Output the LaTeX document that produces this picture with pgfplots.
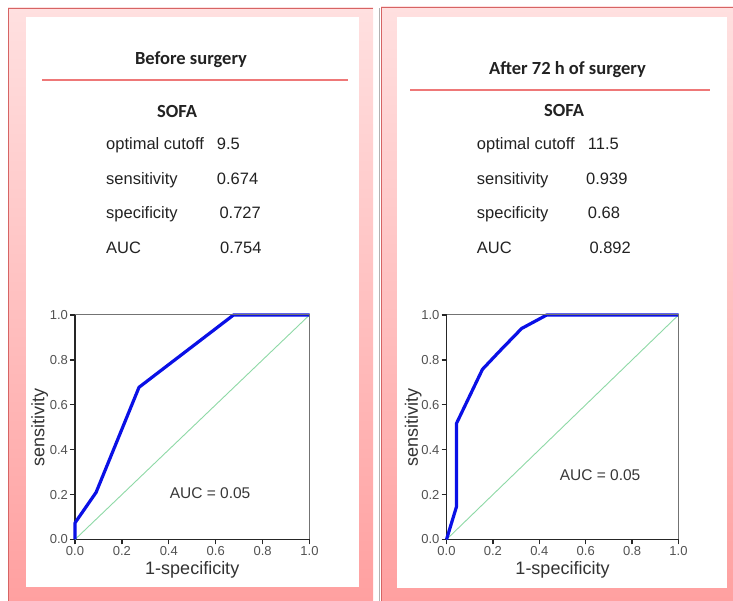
\documentclass[border=0pt]{standalone}
\usepackage{fontspec}
\setmainfont{Liberation Sans}
\newfontfamily\calibri{Carlito}
\usepackage{pgfplots}
\pgfplotsset{compat=1.18}
\definecolor{pinkA}{HTML}{FFE0E0}
\definecolor{pinkB}{HTML}{FFA0A0}
\definecolor{frameRed}{HTML}{D66464}
\definecolor{ruleRed}{HTML}{EE7878}
\definecolor{rocBlue}{HTML}{0A10E6}
\definecolor{diagGreen}{HTML}{8ED9A6}
\definecolor{txt}{HTML}{222222}

\pgfplotsset{rocaxis/.style={
  scale only axis, xmin=0, xmax=1, ymin=0, ymax=1,
  height=224.5pt,
  axis lines=left, axis line style={-, line width=1.6pt, black!85},
  xtick={0,0.2,0.4,0.6,0.8,1}, ytick={0,0.2,0.4,0.6,0.8,1},
  tick align=outside, major tick length=5pt,
  tick style={line width=1.3pt, black!85},
  ticklabel style={font=\fontsize{13}{14}\selectfont, text=black!68},
  xticklabel style={/pgf/number format/fixed, /pgf/number format/fixed zerofill, /pgf/number format/precision=1, yshift=1.5pt},
  yticklabel style={/pgf/number format/fixed, /pgf/number format/fixed zerofill, /pgf/number format/precision=1, xshift=1.5pt},
  /pgf/number format/assume math mode=true,
  label style={font=\fontsize{18}{19}\selectfont, text=black!80},
  xlabel={1-specificity}, ylabel={sensitivity},
  clip=false,
}}

\begin{document}
\begin{tikzpicture}[x=1pt,y=1pt]
\path[use as bounding box] (0,0) rectangle (733,601);
% left panel frame
\shade[top color=pinkA, bottom color=pinkB] (8,0) rectangle (373,593);
\draw[frameRed, line width=1.2pt] (8.5,0) -- (8.5,592.5) -- (373,592.5);
\fill[white] (26,14) rectangle (359,584);
% right panel frame
\shade[top color=pinkA, bottom color=pinkB] (381,0) rectangle (733,594);
\draw[black!30, line width=1pt] (379.2,0) -- (379.2,593);
\draw[frameRed, line width=1.4pt] (381.5,0) -- (381.5,593.5) -- (733,593.5);
\fill[white] (397,13) rectangle (727,584);

% left texts
\node[font=\calibri\bfseries\fontsize{18.5}{20}\selectfont, text=txt, anchor=base] at (191,536) {Before surgery};
\draw[ruleRed, line width=1.3pt] (42,521) -- (348,521);
\node[font=\calibri\bfseries\fontsize{18.5}{20}\selectfont, text=txt, anchor=base] at (177,483) {SOFA};
\begin{scope}[every node/.style={font=\fontsize{16.5}{18}\selectfont, text=txt, anchor=base west, inner sep=0pt}]
\node at (106,451) {optimal cutoff}; \node at (216.7,451) {9.5};
\node at (106,416) {sensitivity};    \node at (216.7,416) {0.674};
\node at (106,382) {specificity};    \node at (219.3,382) {0.727};
\node at (106,347) {AUC};            \node at (220,347) {0.754};
\end{scope}

% right texts
\node[font=\calibri\bfseries\fontsize{18.5}{20}\selectfont, text=txt, anchor=base] at (567.5,526) {After 72 h of surgery};
\draw[ruleRed, line width=1.3pt] (410,511) -- (710,511);
\node[font=\calibri\bfseries\fontsize{18.5}{20}\selectfont, text=txt, anchor=base] at (564,484) {SOFA};
\begin{scope}[every node/.style={font=\fontsize{16.5}{18}\selectfont, text=txt, anchor=base west, inner sep=0pt}]
\node at (476.7,451) {optimal cutoff}; \node at (587.7,451) {11.5};
\node at (476.7,416) {sensitivity};    \node at (586,416) {0.939};
\node at (476.7,382) {specificity};    \node at (587.7,382) {0.68};
\node at (476.7,347) {AUC};            \node at (589.3,347) {0.892};
\end{scope}

% left ROC
\begin{axis}[rocaxis, width=234.5pt, at={(75pt,61.5pt)}, anchor=south west,
  xlabel style={at={(axis description cs:0.5,-0.136)}, anchor=center},
  ylabel style={at={(axis description cs:-0.15,0.5)}, anchor=center}]
\addplot[diagGreen, line width=0.9pt] coordinates {(0,0) (1,1)};
\addplot[rocBlue, line width=3.2pt, line join=round] coordinates {(0,0) (0,0.074) (0.09,0.21) (0.273,0.678) (0.676,1) (1,1)};
\draw[black!55, line width=1pt] (rel axis cs:0,1) -- (rel axis cs:1,1) -- (rel axis cs:1,0);
\node[font=\fontsize{15.5}{16}\selectfont, text=black!78] at (axis cs:0.576,0.207) {AUC = 0.05};
\end{axis}

% right ROC
\begin{axis}[rocaxis, width=232pt, at={(446.5pt,61.5pt)}, anchor=south west,
  xlabel style={at={(axis description cs:0.5,-0.136)}, anchor=center},
  ylabel style={at={(axis description cs:-0.144,0.5)}, anchor=center}]
\addplot[diagGreen, line width=0.9pt] coordinates {(0,0) (1,1)};
\addplot[rocBlue, line width=3.2pt, line join=round] coordinates {(0,0) (0.043,0.146) (0.043,0.517) (0.155,0.758) (0.23,0.84) (0.324,0.94) (0.432,1) (1,1)};
\draw[black!55, line width=1pt] (rel axis cs:0,1) -- (rel axis cs:1,1) -- (rel axis cs:1,0);
\node[font=\fontsize{15.5}{16}\selectfont, text=black!78] at (axis cs:0.662,0.287) {AUC = 0.05};
\end{axis}
\end{tikzpicture}
\end{document}
